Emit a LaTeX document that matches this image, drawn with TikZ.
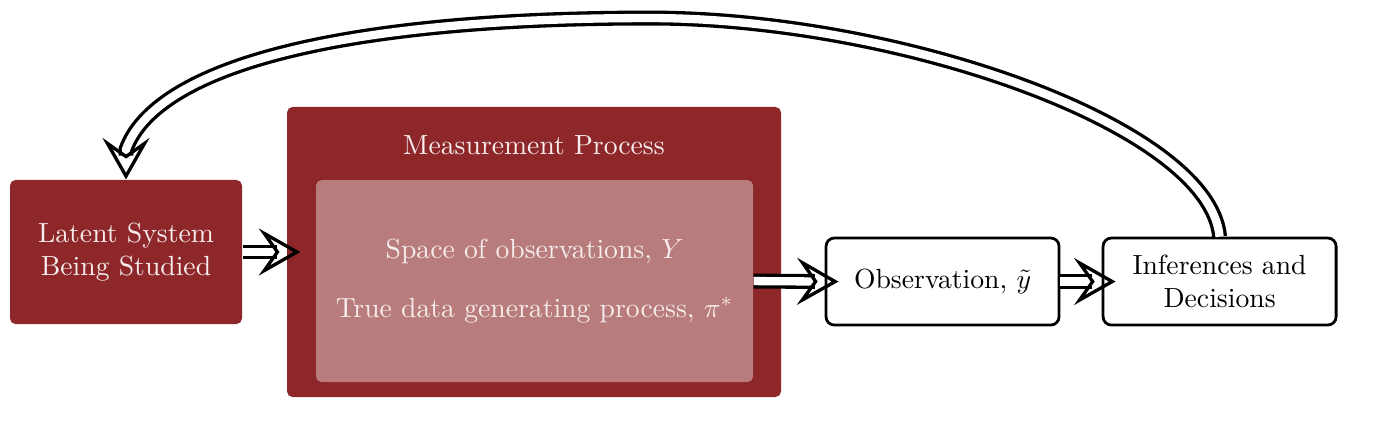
\documentclass[tikz,border=0pt]{standalone}
\usetikzlibrary{arrows.meta}

\definecolor{rossoscuro}{RGB}{141,39,41}
\definecolor{rossochiaro}{RGB}{184,124,124}
\definecolor{testochiaro}{RGB}{246,236,236}

\begin{document}
\begin{tikzpicture}[
  font=\normalsize,
  blocco/.style={fill=rossoscuro, rounded corners=2pt, text=testochiaro, align=center, inner sep=0pt},
  interno/.style={fill=rossochiaro, rounded corners=2pt, text=testochiaro, align=center, inner sep=0pt},
  uscita/.style={draw=black, fill=white, line width=1pt, rounded corners=3pt, align=center, inner sep=0pt},
  freccia/.style={draw=black, line width=1.2pt, double=white, double distance=3pt,
    -{Stealth[open, length=15pt, width=17pt, inset=6pt]}},
  diritta/.style={freccia, shorten >=-5pt}
]

% area del disegno
\useasboundingbox (0,0) rectangle (17.562,-5.359);

%--------------------------------------------------------------
% Sistema latente
%--------------------------------------------------------------
\node[blocco, minimum width=2.946cm, minimum height=1.829cm] (latente) at (1.600,-3.200)
  {Latent System\\Being Studied};

%--------------------------------------------------------------
% Processo di misura
%--------------------------------------------------------------
\node[blocco, minimum width=6.273cm, minimum height=3.683cm] (misura) at (6.781,-3.200) {};
\node[text=testochiaro] (titolo) at (6.781,-1.842) {Measurement Process};
\node[interno, minimum width=5.550cm, minimum height=2.565cm] (spazio) at (6.788,-3.569)
  {Space of observations, $Y$\\[9pt]True data generating process, $\pi^*$};

%--------------------------------------------------------------
% Osservazione e decisioni
%--------------------------------------------------------------
\node[uscita, minimum width=2.959cm, minimum height=1.105cm] (osservazione) at (11.969,-3.575)
  {Observation, $\tilde{y}$};
\node[uscita, minimum width=2.959cm, minimum height=1.105cm] (decisioni) at (15.487,-3.575)
  {Inferences and\\Decisions};

%--------------------------------------------------------------
% Frecce
%--------------------------------------------------------------
\draw[diritta] (latente.east) -- (misura.west);
\draw[diritta] (spazio.east) -- (osservazione.west);
\draw[diritta] (osservazione.east) -- (decisioni.west);
% ritorno dalle decisioni al sistema
\coordinate (cima) at (8.254,-0.229);
\coordinate (gancio) at ([yshift=0.381cm]latente.north);
\draw[freccia] (decisioni.north) .. controls +(-0.127,1.397) and +(3.175,0) .. (cima)
  .. controls +(-4.064,0) and +(0.368,1.016) .. (gancio) -- (latente.north);

\end{tikzpicture}
\end{document}
